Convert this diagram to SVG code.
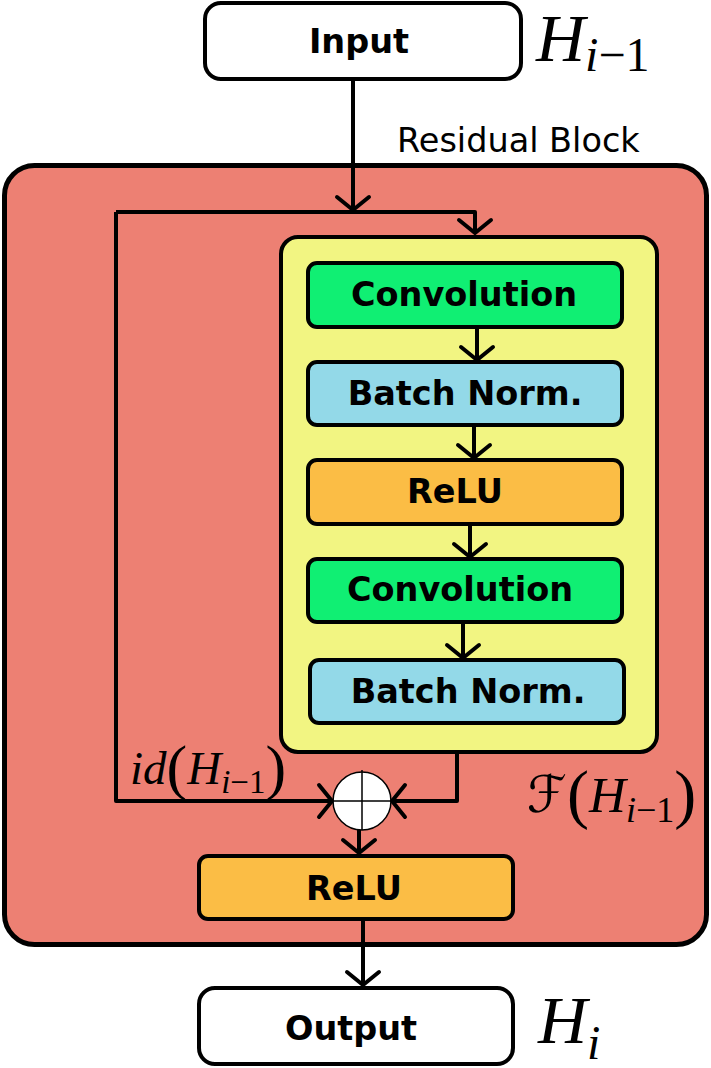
<svg xmlns="http://www.w3.org/2000/svg" width="711" height="1068" viewBox="0 0 711 1068">
<style>
.box{stroke:#000;stroke-width:4}
.lbl{font-family:"DejaVu Sans",sans-serif;font-weight:bold;font-size:33.5px;text-anchor:middle;fill:#000}
.math{font-family:"Liberation Serif","DejaVu Serif",serif;font-style:italic;fill:#000}
.up{font-style:normal}
.con{fill:none;stroke:#000;stroke-width:4;stroke-linejoin:round}
</style>
<defs>
<marker id="arr" markerUnits="userSpaceOnUse" markerWidth="50" markerHeight="50" viewBox="-25 -25 50 50" refX="0" refY="0" orient="auto" overflow="visible">
<path d="M-13,-16 L0,0 L-13,16" fill="none" stroke="#000" stroke-width="4" stroke-linecap="round" stroke-linejoin="round"/>
</marker>
</defs>
<rect width="711" height="1068" fill="#fff"/>
<g id="residual-block">
<rect x="4.5" y="165.5" width="702" height="779" rx="30" fill="#ED8073" stroke="#000" stroke-width="5"/>
<text x="397" y="152" font-family="DejaVu Sans,sans-serif" font-size="33.5" fill="#000">Residual Block</text>
</g>
<g id="F-block">
<rect class="box" x="281" y="237" width="376" height="515" rx="17" fill="#F2F582"/>
</g>
<g id="input">
<rect class="box" x="205" y="3" width="316" height="76" rx="16" fill="#fff"/>
<text class="lbl" x="359" y="53">Input</text>
</g>
<g id="conv1">
<rect class="box" x="308" y="263" width="314" height="64" rx="9" fill="#10EF73"/>
<text class="lbl" x="464" y="306">Convolution</text>
</g>
<g id="bn1">
<rect class="box" x="308" y="362" width="314" height="63" rx="9" fill="#93D9E8"/>
<text class="lbl" x="465" y="405">Batch Norm.</text>
</g>
<g id="relu1">
<rect class="box" x="308" y="460" width="314" height="64" rx="9" fill="#FBBD45"/>
<text class="lbl" x="455" y="503">ReLU</text>
</g>
<g id="conv2">
<rect class="box" x="308" y="559" width="314" height="63" rx="9" fill="#10EF73"/>
<text class="lbl" x="460" y="601">Convolution</text>
</g>
<g id="bn2">
<rect class="box" x="310" y="660" width="314" height="63" rx="9" fill="#93D9E8"/>
<text class="lbl" x="468" y="703">Batch Norm.</text>
</g>
<g id="sum">
<circle cx="362" cy="801" r="29" fill="#fff" stroke="#000" stroke-width="1.5"/>
<path d="M362,770 V830 M333,801 H391" stroke="#000" stroke-width="1.5"/>
</g>
<g id="relu2">
<rect class="box" x="199" y="856" width="314" height="63" rx="9" fill="#FBBD45"/>
<text class="lbl" x="354" y="900">ReLU</text>
</g>
<g id="output">
<rect class="box" x="199" y="988" width="314" height="76" rx="16" fill="#fff"/>
<text class="lbl" x="351" y="1040">Output</text>
</g>
<g id="connectors">
<path class="con" d="M353,79 V210" marker-end="url(#arr)"/>
<path class="con" d="M116,212 H475 V233" marker-end="url(#arr)"/>
<path class="con" d="M116,212 V801 H332" marker-end="url(#arr)"/>
<path class="con" d="M457,752 V801 H392" marker-end="url(#arr)"/>
<path class="con" d="M477,327 V360" marker-end="url(#arr)"/>
<path class="con" d="M474,425 V458" marker-end="url(#arr)"/>
<path class="con" d="M470,524 V557" marker-end="url(#arr)"/>
<path class="con" d="M463,622 V658" marker-end="url(#arr)"/>
<path class="con" d="M359,830 V853" marker-end="url(#arr)"/>
<path class="con" d="M363,919 V985" marker-end="url(#arr)"/>
</g>
<g id="labels">
<text class="math" x="536" y="61" font-size="68">H<tspan font-size="48" dy="10">i</tspan><tspan class="up" font-size="48">−1</tspan></text>
<text class="math" x="538" y="1043" font-size="68">H<tspan font-size="48" dy="16">i</tspan></text>
<text class="math" x="130" y="784" font-size="47">id<tspan class="up" font-size="62" dy="4" font-weight="lighter">(</tspan><tspan dy="-4">H</tspan><tspan font-size="33" dy="9">i</tspan><tspan class="up" font-size="33">−1</tspan><tspan class="up" font-size="62" dy="-5">)</tspan></text>
<text class="math" x="527" y="812" font-size="51"><tspan font-family="DejaVu Serif,DejaVu Sans,serif">ℱ</tspan><tspan class="up" font-size="66" dy="4">(</tspan><tspan dy="-4">H</tspan><tspan font-size="36" dy="10">i</tspan><tspan class="up" font-size="36">−1</tspan><tspan class="up" font-size="66" dy="-6">)</tspan></text>
</g>
</svg>
